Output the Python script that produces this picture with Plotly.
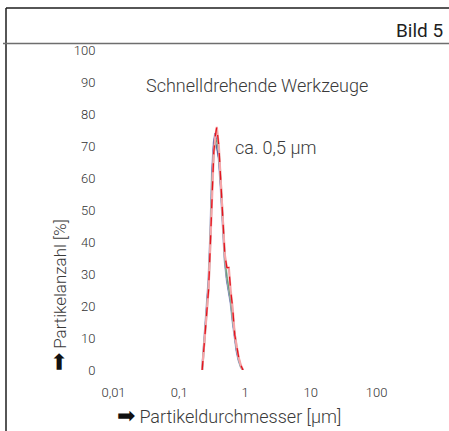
import plotly.graph_objects as go

# Particle diameter bins (µm)
diameter = [0.223, 0.242, 0.260, 0.279, 0.298, 0.316, 0.335, 0.353, 0.372, 0.400, 0.428,
            0.465, 0.493, 0.530, 0.567, 0.605, 0.651, 0.698, 0.744, 0.800, 0.865, 0.930]
# Particle count (%) per series
series_red = [0, 9, 16, 25, 40, 58, 68, 73, 76, 70, 60, 46, 36, 32, 32, 25, 19, 11, 7, 4, 1.5, 0]
series_blue = [0, 11, 18, 28, 43, 62, 71, 74, 70, 66, 57, 43, 34, 28, 25, 21, 15, 10, 6, 3, 1, 0]
series_green = [0, 9, 16, 26, 41, 59, 68, 71, 72, 68, 59, 45, 35, 29, 26, 22, 16, 11, 7, 3.5, 1, 0]

x_tickvals = [0.01, 0.1, 1, 10, 100]
x_ticktext = ["0,01", "0,1", "1", "10", "100"]
y_tickvals = [0, 10, 20, 30, 40, 50, 60, 70, 80, 90, 100]

W, H = 449, 431
L, R, T, B = 101, 400, 50, 370


def px(x):
    return (x - L) / (R - L)


def py(y):
    return (B - y) / (B - T)


fig = go.Figure()

styles = [
    (series_blue, "#a3a3d6", "#2e3190", None),
    (series_green, "#b3cbbd", "#6f9a80", None),
    (series_red, "#f6a5a8", "#e3141e", "dash"),
]
for ys, light, dark, dash in styles:
    fig.add_trace(go.Scatter(x=diameter, y=ys, mode="lines",
                             line=dict(color=light, width=2.2), hoverinfo="skip", showlegend=False))
    fig.add_trace(go.Scatter(x=diameter, y=ys, mode="lines",
                             line=dict(color=dark, width=1.3, dash=dash), showlegend=False))

tick_font = dict(family="Roboto, Inter, sans-serif", size=13, color="#333333", weight=300)

fig.update_xaxes(type="log", range=[-2.19, 2.357], tickvals=x_tickvals, ticktext=x_ticktext,
                 showgrid=False, zeroline=False, showline=False, ticks="outside", ticklen=10,
                 tickcolor="rgba(0,0,0,0)", tickfont=tick_font)
fig.update_yaxes(range=[0, 100], tickvals=y_tickvals, showgrid=False, zeroline=False,
                 showline=False, tickfont=tick_font, ticks="outside", ticklen=2,
                 tickcolor="rgba(0,0,0,0)")

line_dark = dict(color="#1e1e1e", width=1.5)
fig.add_shape(type="line", xref="paper", yref="paper", x0=px(6), x1=px(6), y0=py(8), y1=py(432),
              line=line_dark)
fig.add_shape(type="line", xref="paper", yref="paper", x0=px(6), x1=px(450), y0=py(8), y1=py(8),
              line=line_dark)
fig.add_shape(type="line", xref="paper", yref="paper", x0=px(3), x1=px(450), y0=py(43.5), y1=py(43.5),
              line=dict(color="#6e6e6e", width=1.5))

text_font = "Roboto, Inter, sans-serif"
arrow = "<span style='color:#111;font-size:22px;font-family:DejaVu Sans'>➡</span>"
fig.add_annotation(text="Bild 5", xref="paper", yref="paper", x=px(445), y=py(30),
                   xanchor="right", yanchor="middle", showarrow=False,
                   font=dict(family=text_font, size=19, color="#1e1e1e"))
fig.add_annotation(text="Schnelldrehende Werkzeuge", xref="paper", yref="paper", x=px(257), y=py(85),
                   xanchor="center", yanchor="middle", showarrow=False,
                   font=dict(family=text_font, size=18, color="#3a3a3a", weight=300))
fig.add_annotation(text="ca. 0,5 µm", xref="paper", yref="paper", x=px(233), y=py(147),
                   xanchor="left", yanchor="middle", showarrow=False,
                   font=dict(family=text_font, size=18, color="#3a3a3a", weight=300))
fig.add_annotation(text=arrow + " Partikeldurchmesser [µm]",
                   xref="paper", yref="paper", x=px(229), y=py(415),
                   xanchor="center", yanchor="middle", showarrow=False,
                   font=dict(family=text_font, size=18, color="#3a3a3a", weight=300))
fig.add_annotation(text=arrow + " Partikelanzahl [%]",
                   xref="paper", yref="paper", x=px(58), y=py(295), textangle=-90,
                   xanchor="center", yanchor="middle", showarrow=False,
                   font=dict(family=text_font, size=17, color="#3a3a3a", weight=300))

fig.update_layout(width=W, height=H, margin=dict(l=L, r=W - R, t=T, b=H - B, pad=0),
                  paper_bgcolor="white", plot_bgcolor="white", showlegend=False)

fig.write_html("out.html", config={"displayModeBar": False},
               post_script="document.body.style.margin='0';")
